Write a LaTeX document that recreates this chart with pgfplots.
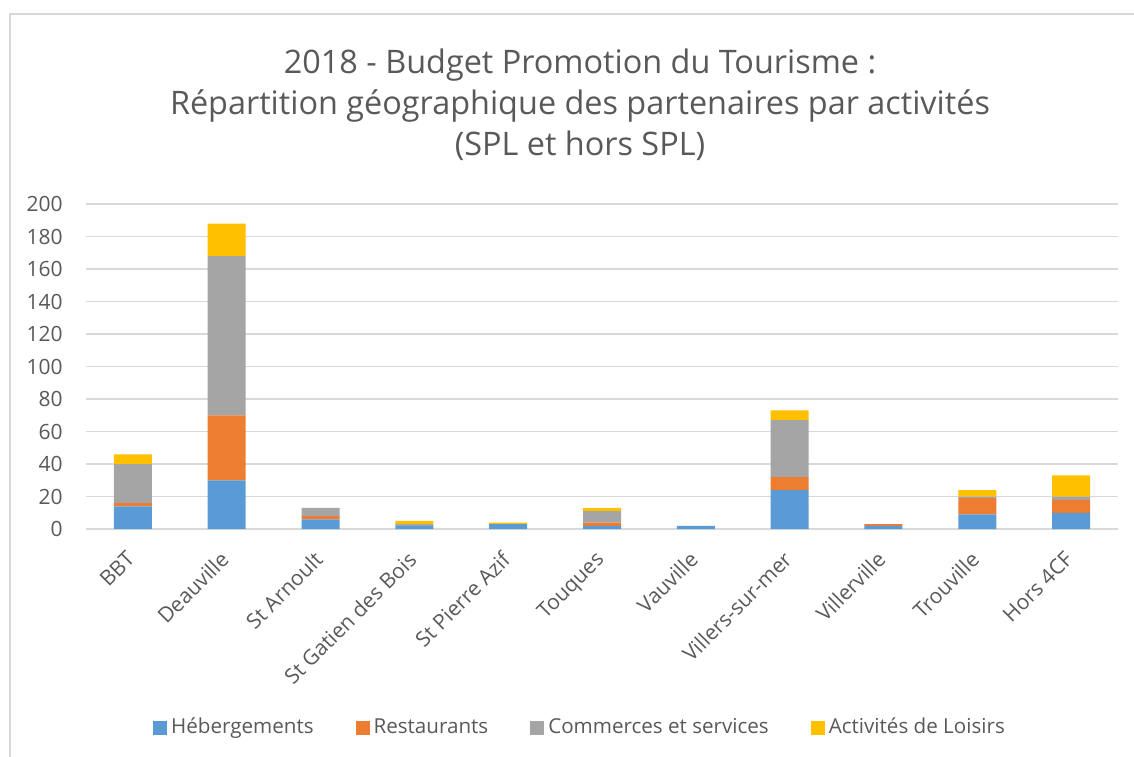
\documentclass[border=0pt]{standalone}
\usepackage{pgfplots}
\pgfplotsset{compat=1.18}
\usepackage{fontspec}
\setmainfont{Open Sans}
\definecolor{cBlue}{HTML}{5B9BD5}
\definecolor{cOrange}{HTML}{ED7D31}
\definecolor{cGray}{HTML}{A5A5A5}
\definecolor{cYellow}{HTML}{FFC000}
\definecolor{cText}{HTML}{595959}
\definecolor{cGrid}{HTML}{D9D9D9}
\begin{document}
\begin{tikzpicture}
\useasboundingbox (-43pt,-113.5pt) rectangle (524pt,264.5pt);
\draw[cGrid, line width=0.8pt] (-38pt,-130pt) rectangle (540pt,257.5pt);
\begin{axis}[
  at={(0pt,0pt)}, anchor=south west,
  scale only axis,
  width=516pt, height=162.5pt,
  ybar stacked,
  bar width=19pt,
  xmin=-0.5, xmax=10.5,
  ymin=0, ymax=200,
  ytick={0,20,...,200},
  xtick={0,...,10},
  xticklabels={BBT,Deauville,St Arnoult,St Gatien des Bois,St Pierre Azif,Touques,Vauville,Villers-sur-mer,Villerville,Trouville,Hors 4CF},
  /pgf/number format/assume math mode=true,
  ymajorgrids,
  grid style={cGrid, line width=0.8pt},
  axis x line*=bottom,
  axis y line*=left,
  y axis line style={draw=none},
  x axis line style={cGrid, line width=0.8pt, -},
  xtick style={draw=none},
  ytick style={draw=none},
  tick label style={font=\fontsize{10.5pt}{13pt}\selectfont, text=cText},
  yticklabel style={inner sep=0pt, xshift=-11.5pt},
  xticklabel style={rotate=45, anchor=north east, inner sep=0pt, yshift=-4.5pt, xshift=-10pt},
  legend columns=4,
  legend style={at={(0.5,0)}, anchor=center, yshift=-99.5pt, xshift=-10.5pt, draw=none,
    font=\fontsize{10.3pt}{13pt}\selectfont, text=cText,
    nodes={text depth=0.25em, text height=0.75em},
    /tikz/every even column/.append style={column sep=19pt}},
  legend image code/.code={\fill[#1] (0pt,-3.5pt) rectangle (7pt,3.5pt);},
  clip=false,
]
\addplot[fill=cBlue, draw=none] coordinates {(0,14) (1,30) (2,6) (3,2) (4,3) (5,2) (6,2) (7,24) (8,2) (9,9) (10,10)};
\addplot[fill=cOrange, draw=none] coordinates {(0,2) (1,40) (2,2) (3,0) (4,0) (5,2) (6,0) (7,8) (8,1) (9,10) (10,8)};
\addplot[fill=cGray, draw=none] coordinates {(0,24) (1,98) (2,5) (3,1) (4,0) (5,7) (6,0) (7,35) (8,0) (9,1) (10,2)};
\addplot[fill=cYellow, draw=none] coordinates {(0,6) (1,20) (2,0) (3,2) (4,1) (5,2) (6,0) (7,6) (8,0) (9,4) (10,13)};
\legend{Hébergements,Restaurants,Commerces et services,Activités de Loisirs}
\node[align=center, text=cText, font=\fontsize{16.2pt}{20.5pt}\selectfont] at (rel axis cs:0.5,1) [yshift=49.5pt, xshift=-11pt]
  {2018 - Budget Promotion du Tourisme :\\Répartition géographique des partenaires par activités\\(SPL et hors SPL)};
\end{axis}
\end{tikzpicture}
\end{document}
